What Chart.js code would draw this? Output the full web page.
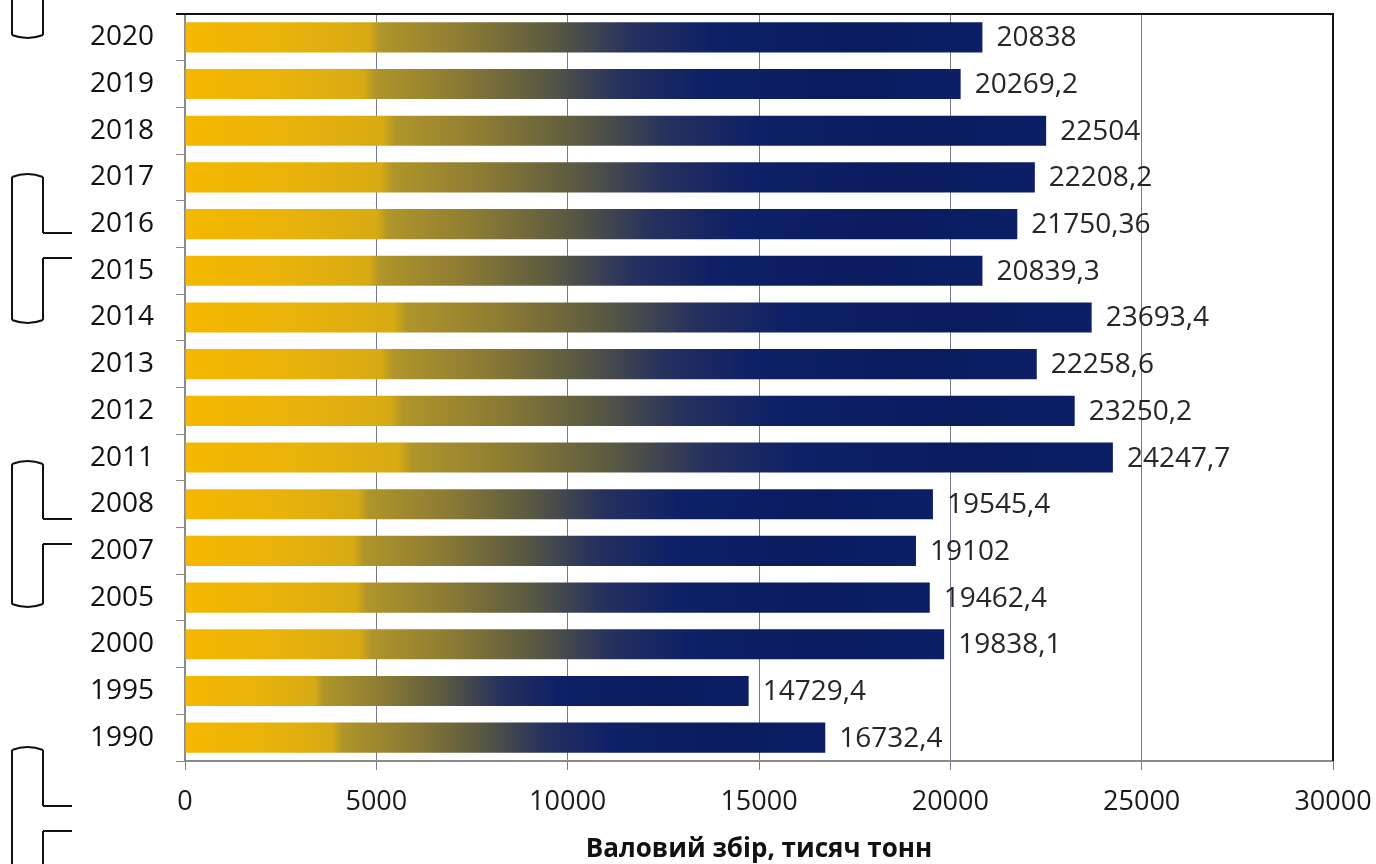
<!DOCTYPE html>
<html>
<head>
<meta charset="utf-8">
<script src="https://cdn.jsdelivr.net/npm/chart.js@4"></script>
<style>
  html, body { margin: 0; padding: 0; background: #fff; }
  #wrap { width: 1376px; height: 864px; position: relative; }
</style>
</head>
<body>
<div id="wrap"><canvas id="c" width="1376" height="864"></canvas></div>
<script>
// ---- data ----
const years = ['2020','2019','2018','2017','2016','2015','2014','2013','2012','2011','2008','2007','2005','2000','1995','1990'];
const harvest = [20838, 20269.2, 22504, 22208.2, 21750.36, 20839.3, 23693.4, 22258.6, 23250.2, 24247.7, 19545.4, 19102, 19462.4, 19838.1, 14729.4, 16732.4];
const xMin = 0;
const xMax = 30000;
const xStep = 5000;
const xTitle = 'Валовий збір, тисяч тонн';

function fmt(v) { return String(v).replace('.', ','); }

function barGradient(ctx) {
  const chart = ctx.chart;
  const xs = chart.scales.x;
  if (!xs || !chart.chartArea || ctx.raw == null) return '#0b1d60';
  const x0 = xs.getPixelForValue(0);
  const x1 = xs.getPixelForValue(ctx.raw);
  const g = chart.ctx.createLinearGradient(x0, 0, x1, 0);
  g.addColorStop(0.00, '#f5b800');
  g.addColorStop(0.12, '#eab30a');
  g.addColorStop(0.23, '#d7aa14');
  g.addColorStop(0.245, '#b0952a');
  g.addColorStop(0.35, '#8c7b34');
  g.addColorStop(0.46, '#5a5a42');
  g.addColorStop(0.56, '#26315e');
  g.addColorStop(0.66, '#0f2166');
  g.addColorStop(0.85, '#0a1c5e');
  g.addColorStop(1.00, '#0c1f66');
  return g;
}

const valueLabels = {
  id: 'valueLabels',
  afterDatasetsDraw(chart) {
    const ctx = chart.ctx;
    const meta = chart.getDatasetMeta(0);
    ctx.save();
    ctx.font = '28px "Open Sans", sans-serif';
    ctx.fillStyle = '#262626';
    ctx.textAlign = 'left';
    ctx.textBaseline = 'middle';
    meta.data.forEach((bar, i) => {
      ctx.fillText(fmt(harvest[i]), bar.x + 14, bar.y + 1);
    });
    ctx.restore();
  }
};

const frame = {
  id: 'frame',
  afterDraw(chart) {
    const ctx = chart.ctx;
    const a = chart.chartArea;
    ctx.save();
    ctx.strokeStyle = '#111';
    ctx.lineWidth = 2;
    ctx.beginPath();
    ctx.moveTo(a.left - 9, a.top);
    ctx.lineTo(a.right, a.top);
    ctx.lineTo(a.right, a.bottom);
    ctx.stroke();
    ctx.restore();
  }
};

// decorative bracket marks seen in the left margin of the scanned page
const brackets = {
  id: 'brackets',
  afterDraw(chart) {
    const ctx = chart.ctx;
    ctx.save();
    ctx.strokeStyle = '#111';
    ctx.lineWidth = 2;
    const L = 12, R = 43, T = 72;
    function capTop(y) {
      ctx.beginPath();
      ctx.moveTo(L, y + 3);
      ctx.quadraticCurveTo((L + R) / 2, y - 3, R, y + 3);
      ctx.stroke();
    }
    function capBot(y) {
      ctx.beginPath();
      ctx.moveTo(L, y - 3);
      ctx.quadraticCurveTo((L + R) / 2, y + 3, R, y - 3);
      ctx.stroke();
    }
    function line(x1, y1, x2, y2) {
      ctx.beginPath(); ctx.moveTo(x1, y1); ctx.lineTo(x2, y2); ctx.stroke();
    }
    // A
    line(L, 0, L, 35); line(R, 0, R, 35); capBot(38);
    // B
    capTop(174); line(L, 177, L, 320); line(R, 177, R, 233); line(R, 233, T, 233);
    line(R, 258, T, 258); line(R, 258, R, 320); capBot(323);
    // C
    capTop(461); line(L, 464, L, 604); line(R, 464, R, 519); line(R, 519, T, 519);
    line(R, 544, T, 544); line(R, 544, R, 604); capBot(607);
    // D
    capTop(747); line(L, 750, L, 864); line(R, 750, R, 806); line(R, 806, T, 806);
    line(R, 831, T, 831); line(R, 831, R, 864);
    ctx.restore();
  }
};

new Chart(document.getElementById('c'), {
  type: 'bar',
  data: {
    labels: years,
    datasets: [{
      data: harvest,
      backgroundColor: barGradient,
      borderWidth: 0,
      barPercentage: 0.645,
      categoryPercentage: 1.0
    }]
  },
  plugins: [valueLabels, frame, brackets],
  options: {
    indexAxis: 'y',
    responsive: false,
    animation: false,
    layout: { padding: { left: 0, right: 43, top: 14, bottom: 0 } },
    plugins: { legend: { display: false }, tooltip: { enabled: false } },
    scales: {
      x: {
        type: 'linear',
        min: xMin, max: xMax,
        afterFit(scale) { scale.height = 103; scale.paddingLeft = 0; scale.paddingRight = 0; },
        ticks: {
          stepSize: xStep,
          padding: 16,
          color: '#1a1a1a',
          font: { family: '"Open Sans", sans-serif', size: 27 },
          callback: (v) => String(v)
        },
        grid: { color: '#737b8c', lineWidth: 1, tickLength: 9 },
        border: { display: true, color: '#8a8a8a', width: 2 },
        title: {
          display: true,
          text: xTitle,
          color: '#111',
          font: { family: '"Open Sans", sans-serif', size: 26, weight: 'bold', lineHeight: 1.0 },
          padding: { top: 0, bottom: 1 }
        }
      },
      y: {
        afterFit(scale) { scale.width = 185; scale.paddingTop = 0; scale.paddingBottom = 0; },
        ticks: {
          padding: 22,
          color: '#111',
          font: { family: '"Open Sans", sans-serif', size: 28 }
        },
        grid: { drawOnChartArea: false, drawTicks: true, tickLength: 9, color: '#8a8a8a', offset: true },
        border: { display: true, color: '#8a8a8a', width: 2 }
      }
    }
  }
});
</script>
</body>
</html>
